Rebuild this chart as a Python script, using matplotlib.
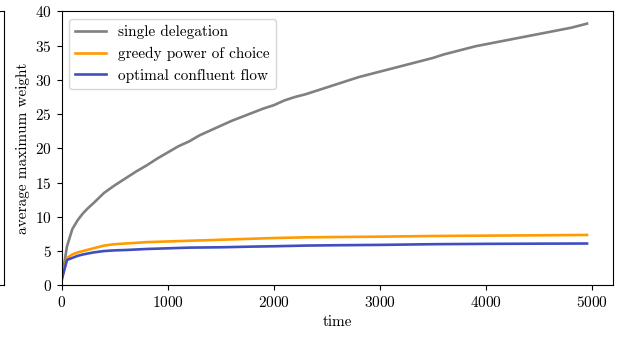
import matplotlib
matplotlib.use("Agg")
import matplotlib.pyplot as plt

plt.rcParams['font.family'] = ['cmr10', 'DejaVu Serif']
plt.rcParams['axes.formatter.use_mathtext'] = True
plt.rcParams['mathtext.fontset'] = 'cm'
plt.rcParams['font.size'] = 11

t_single = [0, 50, 100, 150, 200, 250, 300, 400, 500, 600, 700, 800, 900, 1000,
            1100, 1200, 1300, 1400, 1500, 1600, 1700, 1800, 1900, 2000, 2100, 2200,
            2300, 2400, 2500, 2600, 2700, 2800, 2900, 3000, 3100, 3200, 3300, 3400,
            3500, 3600, 3700, 3800, 3900, 4000, 4100, 4200, 4300, 4400, 4500, 4600,
            4700, 4800, 4900, 4950]
single = [0.8, 5.7, 8.2, 9.5, 10.5, 11.3, 12.0, 13.5, 14.6, 15.6, 16.6, 17.5, 18.5, 19.4,
          20.3, 21.0, 21.9, 22.6, 23.3, 24.0, 24.6, 25.2, 25.8, 26.3, 27.0, 27.5,
          27.9, 28.4, 28.9, 29.4, 29.9, 30.4, 30.8, 31.2, 31.6, 32.0, 32.4, 32.8,
          33.2, 33.7, 34.1, 34.5, 34.9, 35.2, 35.5, 35.8, 36.1, 36.4, 36.7, 37.0,
          37.3, 37.6, 38.0, 38.2]

t_other = [0, 50, 100, 150, 200, 300, 400, 500, 600, 800, 1000, 1200, 1500, 1800,
           2000, 2300, 2600, 3000, 3500, 4000, 4500, 4950]
greedy = [1.0, 4.0, 4.5, 4.8, 5.0, 5.4, 5.8, 6.0, 6.1, 6.3, 6.4, 6.5, 6.65, 6.8,
          6.9, 7.0, 7.05, 7.1, 7.2, 7.25, 7.3, 7.35]
optimal = [0.8, 3.7, 4.0, 4.3, 4.5, 4.8, 5.0, 5.1, 5.15, 5.3, 5.4, 5.5, 5.55, 5.65,
           5.7, 5.8, 5.85, 5.9, 6.0, 6.05, 6.08, 6.1]

labels = ["single delegation", "greedy power of choice", "optimal confluent flow"]
colors = ["#808080", "#ff9b00", "#3f4fbf"]

fig = plt.figure(figsize=(6.23, 3.39), dpi=100)
W, H = 623, 339
ax = fig.add_axes([61.7 / W, 1 - 285.3 / H, (613.3 - 61.7) / W, (285.3 - 11.3) / H])

# cut-off neighbouring panel on the left
axl = fig.add_axes([-0.5, 1 - 285.3 / H, 0.5 + 3.5 / W, (285.3 - 11.3) / H])
axl.set_xticks([])
axl.set_yticks([])

ax.plot(t_single, single, color=colors[0], lw=1.9, label=labels[0])
ax.plot(t_other, greedy, color=colors[1], lw=1.9, label=labels[1])
ax.plot(t_other, optimal, color=colors[2], lw=1.9, label=labels[2])

ax.set_xlim(0, 5197.5)
ax.set_ylim(0, 40)
ax.set_xticks([0, 1000, 2000, 3000, 4000, 5000])
ax.set_yticks(range(0, 41, 5))
ax.set_xlabel("time")
ax.set_ylabel("average maximum weight")
ax.legend(loc="upper left")

fig.savefig("out.png", dpi=100)
